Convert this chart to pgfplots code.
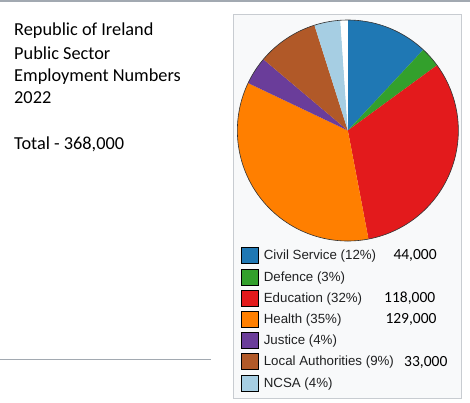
\documentclass[border=0pt]{standalone}
\usepackage{fontspec}
\setmainfont{Liberation Sans}
\newfontfamily\carlito{Carlito}
\usepackage{pgfplots}
\pgfplotsset{compat=1.18}
\usepgfplotslibrary{polar}
\definecolor{cs}{HTML}{1F78B4}
\definecolor{def}{HTML}{33A02C}
\definecolor{edu}{HTML}{E31A1C}
\definecolor{hea}{HTML}{FF7F00}
\definecolor{jus}{HTML}{6A3D9A}
\definecolor{loc}{HTML}{B15928}
\definecolor{nc}{HTML}{A6CEE3}
\definecolor{panelbg}{HTML}{F8F9FA}
\definecolor{panelbd}{HTML}{C8CCD1}
\definecolor{rule}{HTML}{A2A9B1}
\definecolor{txt}{HTML}{202122}
% values in thousands (total 368,000)
% Civil Service 44, Defence 11, Education 118, Health 129,
% Justice 15, Local Authorities 33, NCSA 14, unlabelled 4
\begin{document}
\begin{tikzpicture}[x=1bp,y=1bp]
\useasboundingbox (0,0) rectangle (470,402);
\fill[white] (0,0) rectangle (470,402);
\draw[rule, line width=1.6bp] (0,401.2) -- (470,401.2);
\draw[rule, line width=1bp] (0,42.7) -- (210.7,42.7);
\draw[panelbd, fill=panelbg, line width=1bp] (233.5,3.5) rectangle (461.8,387);
% title text
\begin{scope}[every node/.style={anchor=base west, inner sep=0pt, font=\carlito\fontsize{18.3bp}{22bp}\selectfont}]
\node at (14,402-35.7) {Republic of Ireland};
\node at (14,402-59) {Public Sector};
\node at (14,402-81.2) {Employment Numbers};
\node at (14,402-103.3) {2022};
\node at (14,402-149) {Total - 368,000};
\end{scope}
\begin{polaraxis}[
  at={(314.8,245.7)}, anchor=center,
  scale only axis, width=221bp, height=221bp,
  xmin=0, xmax=360, ymin=0, ymax=1,
  hide axis, xtick=\empty, ytick=\empty,
  clip=false,
  legend image code/.code={\draw[#1, draw=black, line width=1bp] (0bp,-8bp) rectangle (17bp,8bp);},
  legend style={at={(0.0167,-0.028)}, anchor=north west, draw=none, fill=none,
    inner sep=0pt, row sep=4.2bp, nodes={inner sep=0pt},
    font=\fontsize{13.3bp}{15bp}\selectfont\color{txt},
    /tikz/every odd column/.append style={column sep=4.6bp}},
  legend cell align=left,
]
\addplot[fill=cs, draw=none, domain={90-44*360/368}:{90}, samples=60] {1} -- (axis cs:0,0) -- cycle;
\addlegendentry{Civil Service (12\%)}
\addplot[fill=def, draw=none, domain={90-55*360/368}:{90-44*360/368}, samples=20] {1} -- (axis cs:0,0) -- cycle;
\addlegendentry{Defence (3\%)}
\addplot[fill=edu, draw=none, domain={90-173*360/368}:{90-55*360/368}, samples=120] {1} -- (axis cs:0,0) -- cycle;
\addlegendentry{Education (32\%)}
\addplot[fill=hea, draw=none, domain={90-302*360/368}:{90-173*360/368}, samples=120] {1} -- (axis cs:0,0) -- cycle;
\addlegendentry{Health (35\%)}
\addplot[fill=jus, draw=none, domain={90-317*360/368}:{90-302*360/368}, samples=20] {1} -- (axis cs:0,0) -- cycle;
\addlegendentry{Justice (4\%)}
\addplot[fill=loc, draw=none, domain={90-350*360/368}:{90-317*360/368}, samples=40] {1} -- (axis cs:0,0) -- cycle;
\addlegendentry{Local Authorities (9\%)}
\addplot[fill=nc, draw=none, domain={90-364*360/368}:{90-350*360/368}, samples=20] {1} -- (axis cs:0,0) -- cycle;
\addlegendentry{NCSA (4\%)}
\addplot[fill=white, draw=none, domain={90-368*360/368}:{90-364*360/368}, samples=10, forget plot] {1} -- (axis cs:0,0) -- cycle;
\addplot[black!80, line width=0.6bp, domain=0:360, samples=240, forget plot] {1};
\end{polaraxis}
\begin{scope}[every node/.style={anchor=base west, inner sep=0pt, font=\carlito\fontsize{15.5bp}{18bp}\selectfont}]
\node at (393.3,402-259) {44,000};
\node at (384,402-302) {118,000};
\node at (385.3,402-323) {129,000};
\node at (404,402-366) {33,000};
\end{scope}
\end{tikzpicture}
\end{document}
